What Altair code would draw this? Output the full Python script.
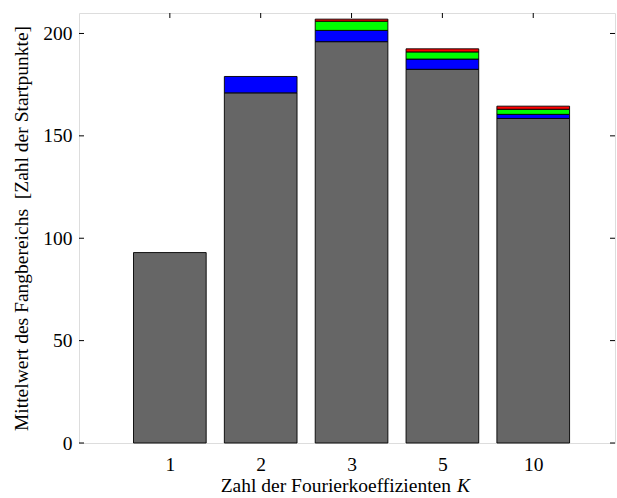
import altair as alt
import pandas as pd

K = ["1", "2", "3", "5", "10"]
gray = [93, 171, 196, 182.5, 158.5]
blue = [0, 8, 5.5, 5, 2]
green = [0, 0, 4.5, 3.5, 2.5]
red = [0, 0, 1, 1.5, 1.5]
y_ticks = [0, 50, 100, 150, 200]

series = [("a", gray), ("b", blue), ("c", green), ("d", red)]
rows = []
for i, k in enumerate(K):
    for o, (name, vals) in enumerate(series):
        if vals[i] > 0:
            rows.append({"idx": i + 1, "K": k, "s": name, "o": o, "v": vals[i]})
df = pd.DataFrame(rows)

W, H = 536, 430
FONT = "Times New Roman, Liberation Serif, serif"
FS = 19.5
label_expr = "[" + ",".join("'%s'" % k for k in K) + "][datum.value - 1]"

xs = alt.Scale(domain=[0, 5.9], nice=False, zero=False)
ys = alt.Scale(domain=[0, 210], nice=False)

bars = alt.Chart(df).transform_window(
    top="sum(v)", groupby=["idx"], sort=[alt.SortField("o", order="ascending")],
    frame=[None, 0]
).transform_calculate(
    x1="datum.idx - 0.4", x2="datum.idx + 0.4", bot="datum.top - datum.v"
).mark_bar(stroke="black", strokeWidth=0.9).encode(
    x=alt.X("x1:Q", scale=xs, axis=alt.Axis(values=[1, 2, 3, 4, 5], labelExpr=label_expr,
                                           ticks=False, domain=False, grid=False, title=None,
                                           labelFont=FONT, labelFontSize=FS, labelColor="black",
                                           labelPadding=12)),
    x2="x2:Q",
    y=alt.Y("top:Q", scale=ys,
            axis=alt.Axis(values=y_ticks, ticks=False, domain=False, grid=False,
                          title="Mittelwert des Fangbereichs \u00a0[Zahl der Startpunkte]",
                          titleFont=FONT, titleFontSize=FS, titleFontWeight="normal",
                          titleColor="black", titlePadding=11,
                          labelFont=FONT, labelFontSize=FS, labelColor="black", labelPadding=7)),
    y2="bot:Q",
    color=alt.Color("s:N", scale=alt.Scale(domain=["a", "b", "c", "d"],
                                           range=["#666666", "#0000ff", "#00ff00", "#ff0000"]),
                    legend=None),
)

yt = pd.DataFrame({"t": y_ticks})
xt = pd.DataFrame({"i": list(range(1, len(K) + 1))})
tick_l = alt.Chart(yt).mark_rule(color="black", strokeWidth=1).encode(
    y=alt.Y("t:Q", scale=ys), x=alt.value(0), x2=alt.value(5))
tick_r = alt.Chart(yt).mark_rule(color="black", strokeWidth=1).encode(
    y=alt.Y("t:Q", scale=ys), x=alt.value(W - 5), x2=alt.value(W))
tick_t = alt.Chart(xt).mark_rule(color="black", strokeWidth=1).encode(
    x=alt.X("i:Q", scale=xs), y=alt.value(0), y2=alt.value(5))
tick_b = alt.Chart(xt).mark_rule(color="black", strokeWidth=1).encode(
    x=alt.X("i:Q", scale=xs), y=alt.value(H - 5), y2=alt.value(H))

title_df = pd.DataFrame({"a": ["Zahl der Fourierkoeffizienten"], "b": ["K"]})
t1 = alt.Chart(title_df).mark_text(font=FONT, fontSize=FS, align="right", baseline="alphabetic",
                                   color="black").encode(
    text="a:N", x=alt.value(372), y=alt.value(479))
t2 = alt.Chart(title_df).mark_text(font=FONT, fontSize=FS, fontStyle="italic", align="left",
                                   baseline="alphabetic", color="black").encode(
    text="b:N", x=alt.value(378), y=alt.value(479))

chart = alt.layer(tick_l, tick_r, tick_t, tick_b, bars, t1, t2).properties(
    width=W, height=H,
    autosize=alt.AutoSizeParams(type="none"),
    padding={"left": 79, "top": 13, "right": 2, "bottom": 55},
).configure_view(stroke="black", strokeWidth=1.2).configure(background="white")

chart.save("out.html", embed_options={"renderer": "svg", "actions": False})
